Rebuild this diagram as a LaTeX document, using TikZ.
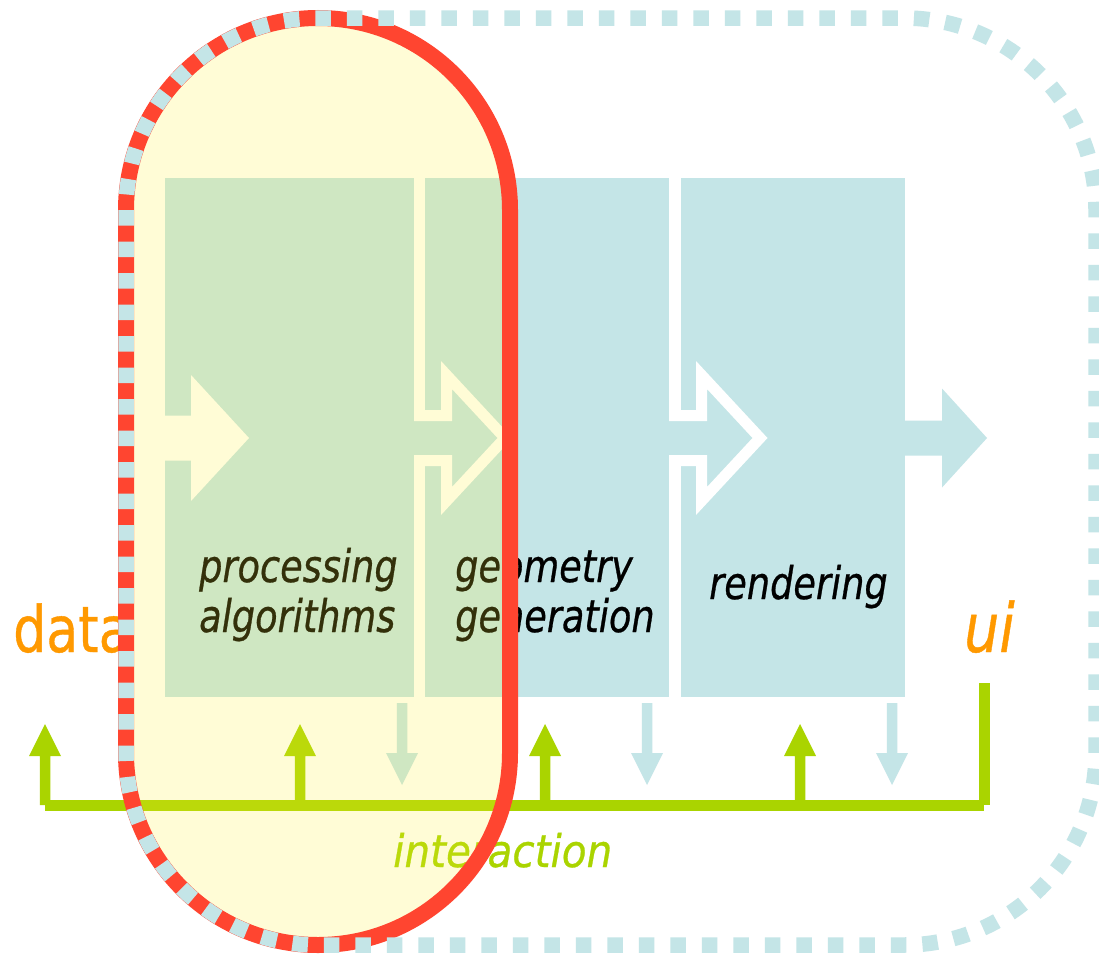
\documentclass[tikz,border=0pt]{standalone}
\usepackage{fontspec}
\setmainfont{DejaVu Sans}[FakeStretch=0.815,FakeBold=0.6]
\newfontfamily\wideface{DejaVu Sans}[FakeStretch=0.9,FakeBold=0.6]
\definecolor{boxblue}{RGB}{196,229,231}
\definecolor{linegreen}{RGB}{170,212,0}
\definecolor{orng}{RGB}{255,153,0}
\definecolor{redb}{RGB}{255,69,48}
\definecolor{ylw}{RGB}{255,240,50}
\begin{document}
\begin{tikzpicture}[x=1pt,y=-1pt,
  stagebox/.style={fill=boxblue,draw=none,inner sep=0pt,outer sep=0pt,anchor=north west,minimum height=519pt},
  boxtext/.style={anchor=base west,inner sep=0pt,text=black,font=\fontsize{45}{50}\selectfont\itshape},
  outlinearrow/.style={draw=white,line width=11pt,miter limit=10},
  uparrow/.style={fill=linegreen},
  downarrow/.style={fill=boxblue},
  stadium/.style={draw=redb,line width=16pt,rounded corners=192pt},
  dashframe/.style={draw=boxblue,line width=15.5pt,dash pattern=on 15.5pt off 16pt,rounded corners=192pt}]
\useasboundingbox (0,0) rectangle (1099,953);
\fill[white] (0,0) rectangle (1099,953);
% stage boxes
\node[stagebox,minimum width=249pt] (b1) at (165,178) {};
\node[stagebox,minimum width=244pt] (b2) at (425,178) {};
\node[stagebox,minimum width=223.5pt] (b3) at (681,178) {};
% block arrows
\fill[white] (165,415.5)--(191,415.5)--(191,375)--(249,438)--(191,501)--(191,460.5)--(165,460.5)--cycle;
\fill[boxblue] (414,415.5)--(446.5,415.5)--(446.5,375)--(505,438)--(446.5,501)--(446.5,460.5)--(414,460.5)--cycle;
\draw[outlinearrow] (414,415.5)--(446.5,415.5)--(446.5,375)--(505,438)--(446.5,501)--(446.5,460.5)--(414,460.5);
\fill[boxblue] (669,415.5)--(701.5,415.5)--(701.5,375)--(760,438)--(701.5,501)--(701.5,460.5)--(669,460.5)--cycle;
\draw[outlinearrow] (669,415.5)--(701.5,415.5)--(701.5,375)--(760,438)--(701.5,501)--(701.5,460.5)--(669,460.5);
\fill[boxblue] (904,420.5)--(942,420.5)--(942,388.5)--(987,438)--(942,487.5)--(942,455.5)--(904,455.5)--cycle;
% small down arrows
\foreach \x in {402,647,892}
  \fill[downarrow] (\x-5.25,703)--(\x-5.25,753)--(\x-16,753)--(\x,785)--(\x+16,753)--(\x+5.25,753)--(\x+5.25,703)--cycle;
% interaction bus
\fill[linegreen] (45,800) rectangle (984,810.5);
\fill[linegreen] (979,683) rectangle (989.5,805);
\foreach \x in {45,300,545,800}
  \fill[uparrow] (\x-5.25,805)--(\x-5.25,756)--(\x-16,756)--(\x,724)--(\x+16,756)--(\x+5.25,756)--(\x+5.25,805)--cycle;
% texts
\node[boxtext] (t1a) at (199,582) {processing};
\node[boxtext] (t1b) at (199,632) {algorithms};
\node[boxtext] (t2a) at (455,582) {geometry};
\node[boxtext] (t2b) at (455,632) {generation};
\node[boxtext] (t3) at (709,599) {rendering};
\node[anchor=base west,inner sep=0pt,text=orng,font=\fontsize{64}{70}\selectfont] (data) at (13,652) {data};
\node[anchor=base west,inner sep=0pt,text=orng,font=\fontsize{68}{70}\selectfont\itshape] (ui) at (964,652) {ui};
\node[anchor=base west,inner sep=0pt,text=linegreen,font=\wideface\fontsize{45}{50}\selectfont\itshape] (inter) at (393,867) {interaction};
% yellow stadium overlay
\fill[ylw,fill opacity=0.2,rounded corners=192pt] (126,18) rectangle (510,945);
\draw[stadium] (126,18) rectangle (510,945);
\draw[dashframe] (126,18) rectangle (1096,945);
\end{tikzpicture}
\end{document}
